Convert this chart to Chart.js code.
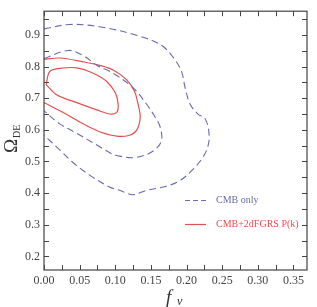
<!DOCTYPE html>
<html>
<head>
<meta charset="utf-8">
<script src="https://cdn.jsdelivr.net/npm/chart.js@4/dist/chart.umd.min.js"></script>
<style>
html,body{margin:0;padding:0;background:#fff;}
#wrap{width:317px;height:307px;}
</style>
</head>
<body>
<div id="wrap"><canvas id="c" width="317" height="307"></canvas></div>
<script>
// ---- data ----
const seriesNames = ["CMB only", "CMB+2dFGRS P(k)"];
const xAxisTitle = "f";
const xAxisSub = "ν";
const yAxisTitle = "Ω";
const yAxisSub = "DE";

// CMB only, outer contour
const cmbOuterX = [0.000,0.036,0.078,0.125,0.163,0.181,0.193,0.198,0.205,0.216,0.226,0.231,0.231,0.224,0.209,0.191,0.172,0.144,0.125,0.106,0.092,0.064,0.041,0.022,0.000];
const cmbOuterY = [0.919,0.933,0.926,0.902,0.870,0.830,0.784,0.733,0.681,0.650,0.635,0.599,0.558,0.517,0.475,0.440,0.422,0.409,0.395,0.409,0.419,0.457,0.496,0.537,0.583];
// CMB only, inner contour
const cmbInnerX = [0.000,0.034,0.055,0.074,0.097,0.125,0.144,0.156,0.163,0.165,0.158,0.144,0.125,0.106,0.097,0.074,0.046,0.022,0.000];
const cmbInnerY = [0.825,0.851,0.835,0.804,0.779,0.733,0.681,0.640,0.609,0.568,0.542,0.522,0.512,0.517,0.522,0.552,0.589,0.619,0.660];
// CMB+2dFGRS, outer contour
const lssOuterX = [0.000,0.022,0.055,0.078,0.097,0.116,0.127,0.132,0.135,0.130,0.120,0.102,0.078,0.055,0.027,0.000];
const lssOuterY = [0.823,0.827,0.815,0.804,0.789,0.758,0.722,0.681,0.640,0.599,0.583,0.580,0.594,0.619,0.655,0.686];
// CMB+2dFGRS, inner contour (closed)
const lssInnerX = [0.003,0.008,0.022,0.046,0.069,0.088,0.100,0.104,0.102,0.092,0.074,0.046,0.017,0.003];
const lssInnerY = [0.743,0.784,0.794,0.796,0.779,0.753,0.717,0.681,0.655,0.650,0.663,0.686,0.712,0.743];

const xRange = [0, 0.369];
const yRange = [0.157, 0.975];

const blue = "#6a6aae";
const red = "#e4504f";

function pts(xs, ys){ return xs.map((x,i)=>({x:x, y:ys[i]})); }

function ds(xs, ys, color, dashed){
  return {
    data: pts(xs, ys), showLine: true, borderColor: color, backgroundColor: color,
    borderWidth: dashed ? 1.1 : 1.2, borderDash: dashed ? [7,4] : [],
    pointRadius: 0, tension: 0.35, fill: false
  };
}

const framePlugin = {
  id: 'frame',
  afterDatasetsDraw(chart){
    const ctx = chart.ctx, a = chart.chartArea;
    const xs = chart.scales.x, ys = chart.scales.y;
    ctx.save();
    ctx.strokeStyle = "#444"; ctx.lineWidth = 1.2;
    ctx.strokeRect(a.left, a.top, a.right - a.left, a.bottom - a.top);
    ctx.lineWidth = 1;
    ctx.beginPath();
    for (let i = 0; i <= 14; i++){
      const v = i * 0.025; const p = Math.round(xs.getPixelForValue(v)) + 0.5;
      ctx.moveTo(p, a.bottom); ctx.lineTo(p, a.bottom - 5);
      ctx.moveTo(p, a.top); ctx.lineTo(p, a.top + 5);
    }
    for (let i = 4; i <= 19; i++){
      const v = i * 0.05; const p = Math.round(ys.getPixelForValue(v)) + 0.5;
      ctx.moveTo(a.left, p); ctx.lineTo(a.left + 5, p);
      ctx.moveTo(a.right, p); ctx.lineTo(a.right - 5, p);
    }
    ctx.stroke();

    // legend
    const lx0 = 185, lx1 = 206, tx = 216;
    const rows = [{y:200, c:blue, d:[5,3], t:seriesNames[0]},{y:224, c:red, d:[], t:seriesNames[1]}];
    ctx.font = "10px 'Liberation Serif'"; ctx.textBaseline = "middle"; ctx.textAlign = "left";
    rows.forEach(r=>{
      ctx.beginPath(); ctx.setLineDash(r.d); ctx.strokeStyle = r.c; ctx.lineWidth = 1.2;
      ctx.moveTo(lx0, r.y + 0.5); ctx.lineTo(lx1, r.y + 0.5); ctx.stroke();
      ctx.setLineDash([]); ctx.fillStyle = r.c; ctx.fillText(r.t, tx, r.y);
    });

    // axis titles
    ctx.fillStyle = "#333";
    ctx.font = "italic 19px 'Liberation Serif'"; ctx.textBaseline = "alphabetic";
    ctx.fillText(xAxisTitle, 166, 303);
    ctx.font = "italic 12px 'Liberation Serif'";
    ctx.fillText(xAxisSub, 177, 305);

    ctx.save();
    ctx.translate(17, 153); ctx.rotate(-Math.PI/2);
    ctx.font = "19px 'Liberation Serif'";
    ctx.fillText(yAxisTitle, 0, 0);
    ctx.font = "10px 'Liberation Serif'";
    ctx.fillText(yAxisSub, 15, 3);
    ctx.restore();
    ctx.restore();
  }
};

new Chart(document.getElementById('c'), {
  type: 'scatter',
  data: { datasets: [
    ds(cmbOuterX, cmbOuterY, blue, true),
    ds(cmbInnerX, cmbInnerY, blue, true),
    ds(lssOuterX, lssOuterY, red, false),
    ds(lssInnerX, lssInnerY, red, false)
  ]},
  options: {
    responsive: false, animation: false, devicePixelRatio: 1,
    layout: { padding: { top: 5, right: 10, left: 0, bottom: 0 } },
    plugins: { legend: { display: false }, tooltip: { enabled: false } },
    scales: {
      x: {
        type: 'linear', min: xRange[0], max: xRange[1],
        grid: { display: false, drawTicks: false }, border: { display: false },
        afterFit(s){ s.height = 37; },
        ticks: {
          stepSize: 0.05, includeBounds: false, padding: 4, maxRotation: 0, autoSkip: false,
          color: "#444", font: { family: "'Liberation Serif'", size: 12 },
          callback: v => (Math.round(v * 100) / 100).toFixed(2)
        }
      },
      y: {
        type: 'linear', min: yRange[0], max: yRange[1],
        grid: { display: false, drawTicks: false }, border: { display: false },
        afterFit(s){ s.width = 44; },
        ticks: {
          stepSize: 0.1, includeBounds: false, padding: 4, autoSkip: false,
          color: "#444", font: { family: "'Liberation Serif'", size: 12 },
          callback: v => (Math.round(v * 10) / 10).toFixed(1)
        }
      }
    }
  },
  plugins: [framePlugin]
});
</script>
</body>
</html>
